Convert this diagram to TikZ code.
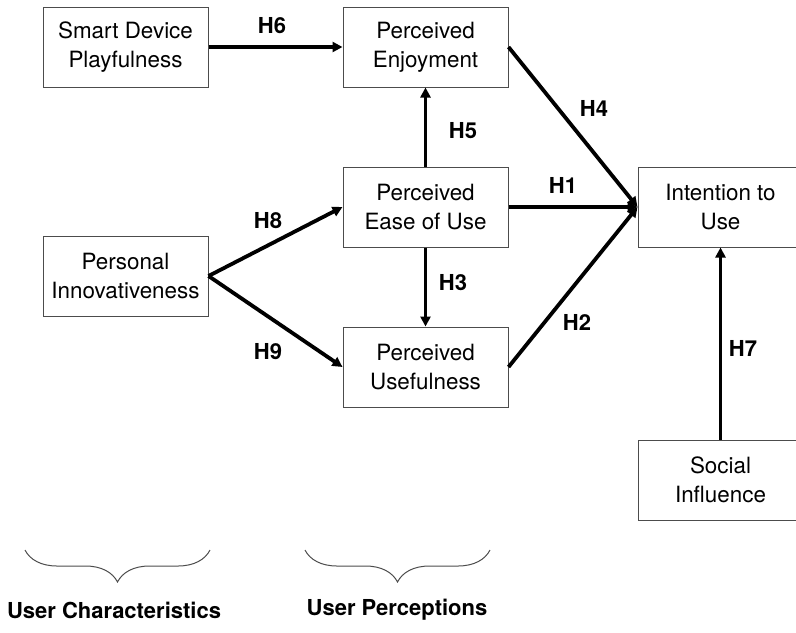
\documentclass[tikz,border=0pt]{standalone}
\usepackage{fontspec}
\setmainfont{TeX Gyre Heros}
\usepackage{tikz}
\usetikzlibrary{arrows.meta,decorations.pathreplacing}

\begin{document}
\begin{tikzpicture}[
  x=0.5pt, y=-0.5pt,
  font=\fontsize{11.2}{14.5}\selectfont,
  blk/.style={draw=black!70, line width=0.5pt, align=center,
              minimum width=82.5pt, minimum height=40pt, inner sep=0pt},
  hyp/.style={font=\fontsize{11}{13}\selectfont\bfseries},
  grp/.style={font=\fontsize{11}{13}\selectfont\bfseries},
  arrow/.style={-{Triangle[length=5pt,width=5pt]}, line width=1.9pt},
  brc/.style={decorate, decoration={brace, mirror, amplitude=16pt},
              draw=black!70, line width=0.5pt}
]
\useasboundingbox (0,0) rectangle (796,632);

% ---- Constructs ----
\node[blk] (play)  at (125.5,47)  {Smart Device\\Playfulness};
\node[blk] (innov) at (125.5,276) {Personal\\Innovativeness};
\node[blk] (enjoy) at (425.5,47)  {Perceived\\Enjoyment};
\node[blk] (ease)  at (425.5,207) {Perceived\\Ease of Use};
\node[blk] (useful) at (425.5,367) {Perceived\\Usefulness};
\node[blk] (intent) at (720.5,207) {Intention to\\Use};
\node[blk] (social) at (720.5,480) {Social\\Influence};

% ---- Hypotheses ----
\draw[arrow] (play) -- (enjoy);
\draw[arrow] (enjoy.east) -- (intent.west);
\draw[arrow] (ease) -- (intent);
\draw[arrow] (useful.east) -- (intent.west);
\draw[arrow] (ease) -- (enjoy);
\draw[arrow] (ease) -- (useful);
\draw[arrow] (innov.east) -- (ease.west);
\draw[arrow] (innov.east) -- (useful.west);
\draw[arrow] (social) -- (intent);

\node[hyp] (h6) at (272,26)  {H6};
\node[hyp] (h4) at (594,108) {H4};
\node[hyp] (h5) at (463,131) {H5};
\node[hyp] (h1) at (563,185) {H1};
\node[hyp] (h8) at (268,221) {H8};
\node[hyp] (h3) at (453,283) {H3};
\node[hyp] (h2) at (577,322) {H2};
\node[hyp] (h9) at (268,352) {H9};
\node[hyp] (h7) at (743,348) {H7};

% ---- Groups ----
\coordinate (b1l) at (25,550);
\coordinate (b1r) at (210,550);
\coordinate (b2l) at (305,550);
\coordinate (b2r) at (490,550);
\draw[brc] (b1l) -- (b1r);
\draw[brc] (b2l) -- (b2r);
\node[grp] (uchar) at (114,610) {User Characteristics};
\node[grp] (uperc) at (397,610) {User Perceptions};
\end{tikzpicture}
\end{document}
